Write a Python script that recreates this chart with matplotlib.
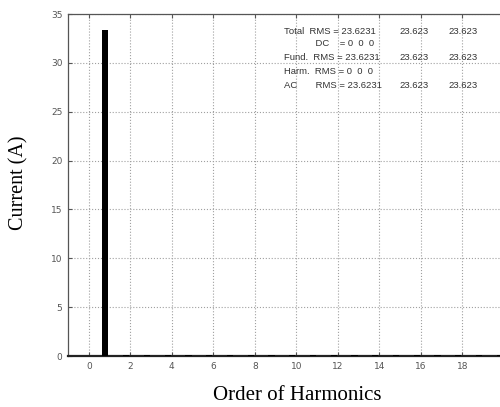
import numpy as np
import matplotlib
matplotlib.use('Agg')
import matplotlib.pyplot as plt

# harmonic spectrum (peak current per order)
orders = np.arange(0, 21)
amps = np.full(len(orders), 0.12)
amps[0] = 0.0
amps[1] = 33.41

xticks = [0, 2, 4, 6, 8, 10, 12, 14, 16, 18]
yticks = [0, 5, 10, 15, 20, 25, 30, 35]

info_rows = [
    ('Total  RMS = 23.6231', '23.623', '23.623'),
    ('            DC    = 0  0  0', '', ''),
    ('Fund.  RMS = 23.6231', '23.623', '23.623'),
    ('Harm.  RMS = 0  0  0', '', ''),
    ('AC       RMS = 23.6231', '23.623', '23.623'),
]

W, H = 500, 407
fig = plt.figure(figsize=(W / 100, H / 100), dpi=100)
ax = fig.add_axes([68 / W, (H - 356) / H, 436 / W, 342 / H])

ax.bar(orders - 0.2, amps, width=0.3, color='black', zorder=3)
ax.set_xlim(-1, 20)
ax.set_ylim(0, 35)
ax.set_xticks(xticks)
ax.set_yticks(yticks)
ax.grid(True, linestyle=':', color='#a0a0a0', linewidth=0.8)
ax.tick_params(direction='in', length=3, labelsize=6.5, colors='#555555',
               top=True, right=True, pad=4)
for s in ax.spines.values():
    s.set_color('#555555')
    s.set_linewidth(0.9)
ax.spines['bottom'].set_linewidth(1.6)
ax.spines['bottom'].set_color('#222222')

# text block (figure pixel coordinates)
ys = [31, 44, 57, 71, 85]
for (a, b, c), y in zip(info_rows, ys):
    fig.text(284 / W, 1 - y / H, a, fontsize=6.8, family='Liberation Sans',
             color='#333333', va='center')
    if b:
        fig.text(399 / W, 1 - y / H, b, fontsize=6.8, family='Liberation Sans',
                 color='#333333', va='center')
        fig.text(448 / W, 1 - y / H, c, fontsize=6.8, family='Liberation Sans',
                 color='#333333', va='center')

fig.text(19 / W, 1 - 183 / H, 'Current (A)', rotation=90, fontsize=14.5,
         family='Liberation Serif', ha='center', va='center')
fig.text(297 / W, 1 - 395 / H, 'Order of Harmonics', fontsize=15,
         family='Liberation Serif', ha='center', va='center')

fig.savefig('out.png', dpi=100)
